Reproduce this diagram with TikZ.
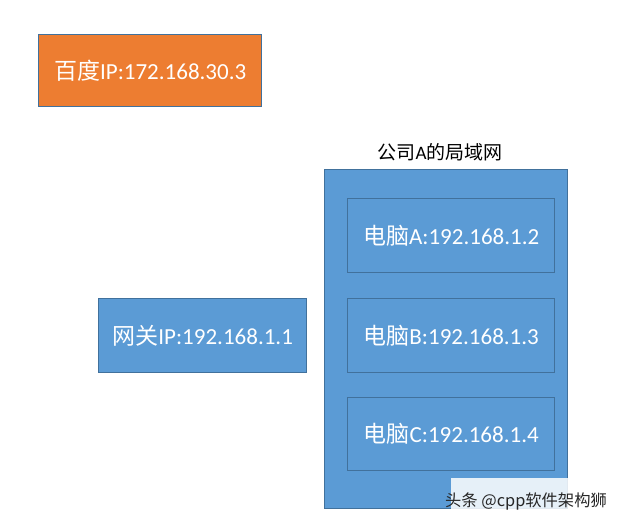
\documentclass[tikz,border=0pt]{standalone}
\usepackage{fontspec}
\setmainfont{Carlito}
\newfontfamily\cjk{Noto Sans CJK SC}
\definecolor{obox}{HTML}{ED7D31}
\definecolor{bbox}{HTML}{5B9BD5}
\definecolor{bline}{HTML}{41719C}
\begin{document}
\begin{tikzpicture}[x=1pt,y=-1pt,
  box/.style={draw=bline,line width=1.3pt,anchor=north west,inner sep=0pt,text=white},
  lbl/.style={font=\fontsize{23}{26}\selectfont,text=white}]
\useasboundingbox[fill=white] (0,0) rectangle (620,524);
\node[box,fill=obox,minimum width=223,minimum height=72] (baidu) at (38,34) {};
\node[lbl] at (baidu.center) {{\cjk 百度}IP:172.168.30.3};
\node[font=\fontsize{19}{22}\selectfont] (title) at (440,152) {{\cjk 公司}A{\cjk 的局域网}};
\node[box,fill=bbox,minimum width=243,minimum height=339] (lan) at (324,169) {};
\node[box,fill=bbox,minimum width=207,minimum height=74] (pca) at (347,198) {};
\node[lbl] at (pca.center) {{\cjk 电脑}A:192.168.1.2};
\node[box,fill=bbox,minimum width=207,minimum height=74] (pcb) at (347,298) {};
\node[lbl] at (pcb.center) {{\cjk 电脑}B:192.168.1.3};
\node[box,fill=bbox,minimum width=207,minimum height=73] (pcc) at (347,397) {};
\node[lbl] at (pcc.center) {{\cjk 电脑}C:192.168.1.4};
\node[box,fill=bbox,minimum width=208,minimum height=74] (gw) at (98,298) {};
\node[lbl] at (gw.center) {{\cjk 网关}IP:192.168.1.1};
\fill[white,opacity=0.85] (451,478) rectangle (618,524);
\node[font=\fontsize{16.3}{18}\cjk,text=black!85] (wm) at (526,501) {头条 @cpp软件架构狮};
\end{tikzpicture}
\end{document}
